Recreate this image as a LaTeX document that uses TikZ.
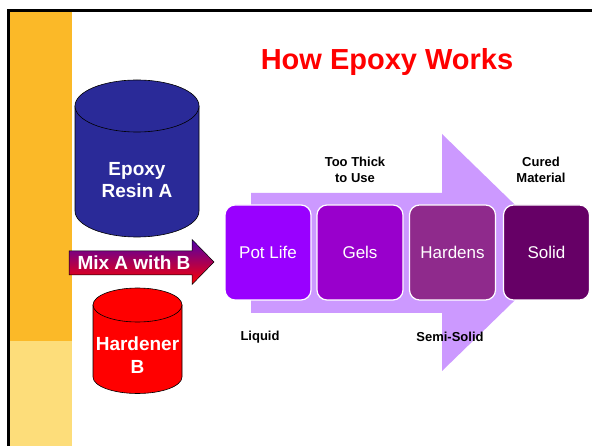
\documentclass[tikz,border=0pt]{standalone}
\usepackage{fontspec}
\setmainfont{Liberation Sans}
\definecolor{barorange}{RGB}{251,185,40}
\definecolor{baryellow}{RGB}{253,221,122}
\definecolor{resinblue}{RGB}{42,42,152}
\definecolor{lavender}{RGB}{204,153,255}
\definecolor{potc}{RGB}{153,0,255}
\definecolor{gelc}{RGB}{153,0,204}
\definecolor{hardc}{RGB}{143,42,140}
\definecolor{solidc}{RGB}{102,0,102}
\definecolor{mixtop}{RGB}{80,0,170}
\definecolor{mixmid}{RGB}{165,0,115}
\tikzset{
  stagebox/.style={draw=white, line width=1.2pt, rounded corners=10pt, minimum width=86pt, minimum height=95pt, inner sep=0pt, text=white, font=\fontsize{17}{20}\selectfont},
  cyltext/.style={text=white, align=center, font=\fontsize{19}{22.5}\selectfont\bfseries},
  smalllabel/.style={text=black, align=center, font=\fontsize{13}{16}\selectfont\bfseries},
  cylline/.style={draw=black, line width=0.6pt}
}
\begin{document}
\begin{tikzpicture}[x=1pt,y=-1pt]
\useasboundingbox (0,0) rectangle (592,446);
\fill[white] (0,0) rectangle (592,446);
% side bar
\fill[barorange] (8,10) rectangle (72,341);
\fill[baryellow] (8,341) rectangle (72,446);
\draw[line width=2.5pt] (8.3,446) -- (8.3,10.5) -- (592,10.5);
% title
\node[text=red, font=\fontsize{29}{32}\selectfont\bfseries] (title) at (387,62) {How Epoxy Works};
% cylinder A
\filldraw[fill=resinblue, cylline] (75,106) -- (75,211) arc[start angle=180,end angle=0,x radius=62,y radius=26] -- (199,106) -- cycle;
\filldraw[fill=resinblue, cylline] (137,106) ellipse[x radius=62,y radius=26];
\node[cyltext] (resin) at (137,180) {Epoxy\\Resin A};
% cylinder B
\filldraw[fill=red, cylline] (93,305) -- (93,377) arc[start angle=180,end angle=0,x radius=44.5,y radius=16.5] -- (182,305) -- cycle;
\filldraw[fill=red, cylline] (137.5,305) ellipse[x radius=44.5,y radius=17];
\node[cyltext] (hardener) at (137.5,355) {Hardener\\B};
% mix arrow
\shade[top color=mixtop, middle color=mixmid, bottom color=red, draw=black, line width=0.5pt] (69,251) -- (192,251) -- (192,239.5) -- (214,262) -- (192,284.5) -- (192,275) -- (69,275) -- cycle;
\node[text=white, font=\fontsize{19}{22}\selectfont\bfseries] (mix) at (134,263) {Mix A with B};
% big arrow
\fill[lavender] (251,193) -- (442,193) -- (442,134) -- (564,252.5) -- (442,371) -- (442,313) -- (251,313) -- cycle;
% stage boxes
\node[stagebox, fill=potc] (pot) at (268,252.5) {Pot Life};
\node[stagebox, fill=gelc] (gels) at (360,252.5) {Gels};
\node[stagebox, fill=hardc] (hardens) at (452.5,252.5) {Hardens};
\node[stagebox, fill=solidc] (solid) at (546.5,252.5) {Solid};
% labels
\node[smalllabel] (thick) at (355,170) {Too Thick\\to Use};
\node[smalllabel] (cured) at (541,170) {Cured\\Material};
\node[smalllabel] (liquid) at (260,337) {Liquid};
\node[smalllabel] (semi) at (450,337) {Semi-Solid};
\end{tikzpicture}
\end{document}
